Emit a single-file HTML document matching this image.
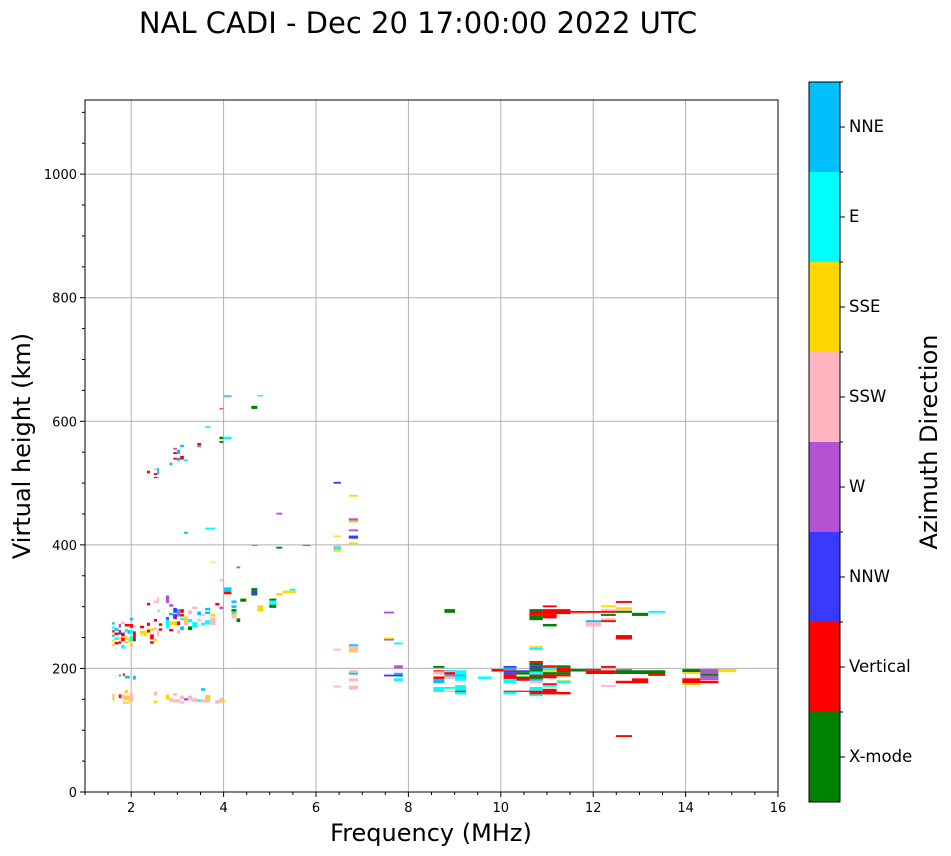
<!DOCTYPE html>
<html><head><meta charset="utf-8"><style>
body{margin:0;background:#fff;}
svg{display:block;font-family:"DejaVu Sans","Liberation Sans",sans-serif;}
</style></head><body>
<svg id="chart" width="951" height="856"></svg>
<script>
const colorNames = ["X-mode","Vertical","NNW","W","SSW","SSE","E","NNE"];
const colorValues = ["#008000","#ff0000","#3a3aff","#b452d4","#ffb6c1","#ffd700","#00ffff","#00bfff"];
const xTicks = [2,4,6,8,10,12,14,16];
const yTicks = [0,200,400,600,800,1000];
// echoes: [freqStart, freqEnd, heightTop, heightBottom, directionIndex]
const echoes = [
[1.59,1.64,275,271,7],[1.59,1.64,268,264,6],[1.59,1.64,262,258,1],[1.59,1.64,255,251,7],[1.59,1.64,247,243,5],[1.59,1.64,240,236,5],
[1.64,1.73,265,261,7],[1.64,1.73,258,254,1],[1.64,1.73,250,246,6],[1.64,1.73,243,239,1],
[1.73,1.78,272,266,3],[1.73,1.78,262,255,2],[1.73,1.78,251,247,5],[1.73,1.78,244,240,1],
[1.78,1.86,276,272,4],[1.78,1.86,258,252,1],[1.78,1.86,250,244,1],[1.78,1.86,238,232,6],
[1.86,1.97,272,268,1],[1.86,1.93,264,258,6],[1.93,1.97,262,256,7],[1.86,1.93,252,246,5],[1.93,1.97,250,242,5],[1.86,1.93,244,240,5],
[1.97,2.04,282,278,7],[1.97,2.04,272,266,1],[1.97,2.04,262,256,6],[1.97,2.04,252,244,6],[1.97,2.04,240,236,5],[2.04,2.10,260,244,1],[2.04,2.10,270,266,4],
[2.19,2.28,269,265,1],[2.19,2.28,261,255,5],[2.28,2.34,261,252,5],[2.34,2.41,274,269,1],[2.34,2.41,263,258,1],[2.41,2.49,265,260,5],[2.41,2.49,255,247,1],[2.41,2.49,244,240,1],[2.49,2.56,280,276,1],[2.49,2.56,266,262,4],[2.56,2.60,262,252,4],[2.49,2.56,248,244,5],[2.60,2.67,273,269,1],[2.60,2.67,265,261,1],[2.56,2.63,295,291,4],[2.49,2.56,310,306,4],[2.34,2.41,306,302,1],[2.56,2.60,315,306,4],
[2.75,2.82,318,306,3],[2.82,2.91,304,300,3],[2.82,2.91,290,286,7],[2.75,2.82,279,265,6],[2.82,2.91,276,270,5],[2.82,2.91,264,260,1],[2.75,2.82,283,279,2],[2.91,2.99,298,290,2],[2.91,2.99,286,280,1],[2.99,3.06,296,284,7],[2.91,2.99,276,270,5],[2.99,3.06,276,270,1],[3.06,3.14,288,284,1],[3.06,3.14,282,278,6],[3.06,3.14,268,262,7],[2.99,3.06,262,256,4],[3.14,3.23,284,276,5],[3.14,3.23,276,270,4],[3.23,3.32,294,288,4],[3.23,3.32,280,275,6],[3.23,3.32,268,262,0],[3.32,3.43,275,266,6],[3.43,3.51,280,276,4],[3.43,3.51,292,286,7],[3.51,3.60,288,285,4],[3.51,3.60,274,270,6],[3.32,3.43,300,296,4],[3.60,3.71,298,294,7],[3.60,3.71,292,288,7],[3.71,3.82,288,284,5],[3.71,3.82,282,276,4],[3.60,3.71,278,271,6],[3.71,3.82,276,270,4],[3.82,3.91,306,302,1],[3.91,3.99,300,296,3],[2.91,2.99,288,283,2],[3.06,3.14,296,290,1],[2.99,3.06,290,286,3],
[1.73,1.78,190,187,7],[1.82,1.86,192,188,1],[1.86,1.93,188,184,7],[1.93,1.97,188,184,7],[2.04,2.10,188,182,7],
[1.59,1.64,159,152,4],[1.59,1.64,152,148,5],[1.73,1.78,158,152,1],[1.78,1.86,158,150,4],[1.82,1.86,148,142,4],[1.86,1.93,165,160,5],[1.86,1.97,156,148,5],[1.97,2.04,160,146,4],[1.86,1.97,146,143,5],[2.49,2.56,162,156,4],[2.49,2.56,148,144,5],[2.75,2.82,158,150,5],[2.82,2.91,152,146,4],[2.91,2.99,160,156,4],[2.91,3.06,150,145,4],[3.06,3.14,156,150,4],[3.06,3.14,147,143,4],[3.14,3.23,152,148,3],[3.23,3.32,156,148,4],[3.32,3.43,152,146,4],[3.43,3.51,150,146,6],[3.51,3.71,150,145,4],[3.60,3.71,157,150,5],[3.51,3.60,168,164,7],[3.82,3.91,149,143,4],[3.91,3.99,152,146,4],[3.91,4.04,148,145,5],
[5.14,5.27,452,449,3],[3.14,3.23,421,418,7],[3.60,3.82,428,425,6],[4.61,4.73,400,398,7],[5.14,5.27,397,394,0],[5.71,5.88,400,398,3],[3.71,3.82,373,372,5],[4.28,4.36,365,362,3],[3.91,3.99,344,341,4],[4.01,4.17,331,328,7],[4.01,4.17,328,324,7],[4.01,4.17,324,320,1],[4.60,4.73,330,326,0],[4.60,4.73,326,322,2],[4.60,4.73,322,318,0],[4.36,4.49,313,308,0],[4.99,5.14,313,310,0],[4.99,5.14,310,303,6],[4.99,5.14,303,298,0],[5.28,5.56,326,322,5],[5.43,5.56,329,326,6],[5.14,5.28,322,318,5],[4.73,4.86,302,292,5],[4.28,4.36,281,275,0],[4.17,4.28,310,306,7],[4.17,4.28,302,298,7],[4.17,4.28,296,292,0],[4.17,4.28,292,288,6],[4.17,4.28,288,285,5],[4.17,4.28,285,281,4],
[4.01,4.17,642,640,7],[4.01,4.17,640,638,4],[4.73,4.86,642,641,7],[3.91,3.99,621,620,1],[4.60,4.73,625,620,0],[3.60,3.71,592,589,6],[3.91,3.99,575,571,0],[4.00,4.17,575,571,6],[3.91,3.99,568,565,0],[3.43,3.51,565,561,1],[3.43,3.51,561,558,7],[3.06,3.14,562,558,7],[2.91,2.99,557,554,3],[2.91,2.99,550,547,1],[2.99,3.06,554,547,7],[2.91,2.99,541,538,1],[2.99,3.06,541,536,7],[3.06,3.14,544,538,1],[3.14,3.23,538,536,7],[2.83,2.89,533,529,7],[2.34,2.41,520,516,1],[2.49,2.56,524,521,4],[2.56,2.60,524,514,7],[2.49,2.56,516,513,1],[2.49,2.56,510,508,1],[2.56,2.60,510,508,6],
[6.38,6.54,502,499,2],[6.71,6.91,481,478,5],[6.71,6.91,443,439,3],[6.71,6.91,439,436,5],[6.71,6.91,425,422,3],[6.38,6.54,415,413,5],[6.71,6.91,415,410,2],[6.71,6.91,404,401,5],[6.38,6.54,399,396,4],[6.38,6.54,397,392,6],[6.38,6.54,392,389,5],[7.47,7.69,292,289,3],[7.47,7.69,250,247,5],[7.47,7.69,247,246,2],[7.69,7.88,242,239,6],[6.71,6.91,239,236,7],[6.71,6.91,236,229,4],[6.71,6.91,229,226,5],[6.38,6.54,232,229,4],[7.69,7.88,205,200,3],[6.71,6.91,197,193,4],[6.71,6.91,193,190,7],[7.69,7.88,193,190,7],[7.47,7.88,190,187,2],[7.69,7.88,184,179,6],[6.71,6.91,184,179,4],[6.38,6.54,172,169,4],[6.71,6.91,172,166,4],
[8.78,9.01,296,290,0],[8.54,8.78,204,201,0],[8.54,8.78,197,195,1],[8.54,8.78,194,190,4],[8.54,8.78,187,183,1],[8.54,8.78,183,176,7],[8.78,9.01,197,195,7],[8.78,9.01,194,190,1],[8.78,9.01,187,183,4],[9.01,9.25,197,187,6],[9.01,9.25,187,180,6],[8.78,9.25,190,187,7],[8.54,8.78,170,162,6],[8.78,9.01,170,167,6],[9.01,9.25,173,164,6],[8.78,9.01,164,162,5],[9.01,9.25,164,162,1],[9.01,9.25,162,158,6],[9.51,9.80,187,183,6],[9.80,10.06,199,195,1],
[10.06,10.34,204,201,2],[10.06,10.34,201,197,7],[10.06,10.34,197,194,1],[10.06,10.34,194,190,2],[10.06,10.34,190,187,1],[10.06,10.34,187,183,1],[10.06,10.34,183,176,6],[10.06,10.62,164,162,1],[10.06,10.34,162,158,6],[10.34,10.62,197,194,2],[10.34,10.62,194,190,0],[10.34,10.62,187,183,0],[10.34,10.62,184,180,1],
[10.62,10.91,296,293,0],[10.62,10.91,293,285,1],[10.62,10.91,285,278,0],[10.91,11.21,302,299,1],[10.91,11.51,296,288,1],[10.91,11.21,288,281,1],[10.91,11.21,272,268,0],[11.51,11.84,293,290,1],[11.51,11.84,290,288,4],[11.84,12.17,293,290,1],[11.84,12.17,278,275,7],[11.84,12.17,275,268,4],[12.17,12.49,302,299,5],[12.17,12.49,296,293,4],[12.17,12.49,293,290,1],[12.17,12.49,288,285,0],[12.17,12.49,281,278,4],[12.17,12.49,278,275,1],[12.49,12.84,309,306,1],[12.49,12.84,299,296,5],[12.49,12.84,296,293,4],[12.49,12.84,293,290,0],[12.84,13.19,290,285,0],[13.19,13.56,293,290,6],[12.49,12.84,254,247,1],[12.49,12.84,92,89,1],
[10.62,10.91,236,233,5],[10.62,10.91,233,230,6],
[10.62,10.91,212,209,1],[10.62,10.91,209,205,0],[10.62,10.91,205,200,2],[10.62,10.91,200,195,0],[10.62,10.91,195,190,6],[10.62,10.91,190,187,1],[10.62,10.91,187,183,0],[10.62,10.91,183,180,7],[10.62,10.91,180,176,4],[10.62,10.91,170,164,6],[10.62,10.91,164,158,1],[10.62,10.91,158,155,6],[10.91,11.21,205,201,1],[10.91,11.21,201,197,6],[10.91,11.21,197,194,5],[10.91,11.21,194,190,0],[10.91,11.21,190,184,1],[10.91,11.21,176,173,1],[10.91,11.21,173,170,6],[10.91,11.21,167,158,1],[11.21,11.51,205,201,0],[11.21,11.51,201,194,1],[11.21,11.51,194,190,0],[11.21,11.51,190,187,1],[11.21,11.51,181,180,5],[11.21,11.51,180,176,6],[11.21,11.51,162,158,1],[11.51,11.84,199,195,0],[11.84,12.17,199,197,0],[11.84,12.49,197,191,1],[12.17,12.49,204,201,1],[12.17,12.49,173,170,4],[12.49,12.84,199,197,3],[12.49,13.56,197,191,0],[13.19,13.56,191,188,1],[12.49,12.84,180,176,1],[12.84,13.19,184,176,1],
[13.93,14.32,199,194,0],[13.93,14.32,194,191,5],[13.93,14.32,184,176,1],[13.93,14.32,176,173,5],[14.32,14.71,199,191,3],[14.32,14.71,191,188,0],[14.32,14.71,188,184,3],[14.32,14.71,184,181,3],[14.32,14.71,180,176,1],[14.71,15.10,199,194,5]
];

const NS="http://www.w3.org/2000/svg";
const svg=document.getElementById('chart');
const L=85,R=778,T=100,B=792,XMIN=1,XMAX=16,YMAX=1120;
const xs=f=>L+(f-XMIN)*(R-L)/(XMAX-XMIN);
const ys=h=>B-h*(B-T)/YMAX;
function el(tag,attrs,parent){const e=document.createElementNS(NS,tag);for(const k in attrs)e.setAttribute(k,attrs[k]);(parent||svg).appendChild(e);return e;}

let t=el('text',{x:418,y:33,'font-size':29,'text-anchor':'middle',fill:'#000'});
t.textContent='NAL CADI - Dec 20 17:00:00 2022 UTC';



const grid=el('g',{});


xTicks.forEach(v=>{if(v<XMAX)el('line',{x1:xs(v),x2:xs(v),y1:T,y2:B,stroke:'#b0b0b0','stroke-width':1},grid);});
yTicks.forEach(v=>{if(v>0)el('line',{x1:L,x2:R,y1:ys(v),y2:ys(v),stroke:'#b0b0b0','stroke-width':1},grid);});

const marks=el('g',{});


echoes.forEach(d=>{
  const x0=xs(d[0]),x1=xs(d[1]),y0=ys(d[2]),y1=ys(d[3]);
  const r=el('rect',{x:x0,y:y0,width:Math.max(1,x1-x0),height:Math.max(1,y1-y0),fill:colorValues[d[4]]},marks);
  
  
});

const frame=el('rect',{x:L,y:T,width:R-L,height:B-T,fill:'none',stroke:'#000','stroke-width':1});



const ax=el('g',{});


for(let v=XMIN;v<=XMAX;v+=0.5){const maj=xTicks.includes(v);el('line',{x1:xs(v),x2:xs(v),y1:B,y2:B+(maj?5:3),stroke:'#000'},ax);}
for(let v=0;v<YMAX;v+=50){const maj=yTicks.includes(v);el('line',{x1:L,x2:L-(maj?5:3),y1:ys(v),y2:ys(v),stroke:'#000'},ax);}
xTicks.forEach(v=>{const tx=el('text',{x:xs(v),y:B+20,'font-size':13,'text-anchor':'middle'},ax);tx.textContent=v;});
yTicks.forEach(v=>{const tx=el('text',{x:L-8,y:ys(v)+5,'font-size':13,'text-anchor':'end'},ax);tx.textContent=v;});

t=el('text',{x:431,y:841,'font-size':24,'text-anchor':'middle'});
t.textContent='Frequency (MHz)';


t=el('text',{x:0,y:0,'font-size':24,'text-anchor':'middle',transform:'translate(30,446) rotate(-90)'});
t.textContent='Virtual height (km)';



const cb=el('g',{});


const CT=82,CB=802,CL=809,CR=840,seg=(CB-CT)/colorNames.length;
colorNames.forEach((n,i)=>{
  const yTop=CB-(i+1)*seg;
  const r=el('rect',{x:CL,y:yTop,width:CR-CL,height:seg,fill:colorValues[i]},cb);
  
  
  el('line',{x1:CR,x2:CR+5,y1:yTop+seg/2,y2:yTop+seg/2,stroke:'#000'},cb);
  el('line',{x1:CR,x2:CR+3,y1:yTop,y2:yTop,stroke:'#000'},cb);
  const tx=el('text',{x:CR+9,y:yTop+seg/2+5,'font-size':16.5},cb);tx.textContent=n;
});
el('rect',{x:CL,y:CT,width:CR-CL,height:CB-CT,fill:'none',stroke:'#000'},cb);
t=el('text',{x:0,y:0,'font-size':24,'text-anchor':'middle',transform:'translate(937,442) rotate(-90)'});
t.textContent='Azimuth Direction';


</script>
</body></html>
